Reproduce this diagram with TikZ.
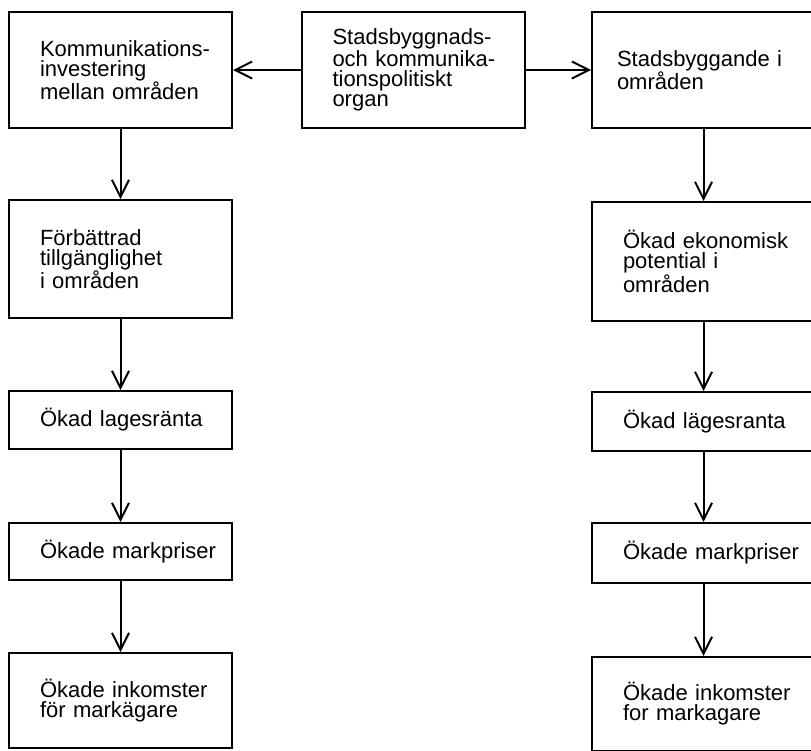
\documentclass[tikz,border=0pt]{standalone}
\usepackage{fontspec}
\setmainfont{Liberation Sans}
\usetikzlibrary{arrows.meta, positioning}
\hyphenpenalty=10000
\exhyphenpenalty=10000
\lineskiplimit=-30pt

\begin{document}
\begin{tikzpicture}[x=1pt, y=-1pt,
    stagebox/.style={draw, line width=2pt, minimum width=223pt, text width=161pt,
      inner xsep=31pt, align=left, font=\fontsize{22}{20}\selectfont},
    flowarrow/.style={line width=2pt, -{Straight Barb[length=17pt, width=17pt]}}]
        \useasboundingbox (0,0) rectangle (811,750);
        \clip (0,0) rectangle (811,750);

        % Top row
        \node[stagebox, minimum height=116pt] (komm) at (120.5,70) {Kommunikations-\\investering\\mellan~områden};
        \node[stagebox, minimum height=116pt] (organ) at (413,70) {Stadsbyggnads-\\och~kommunika-\\tionspolitiskt\\organ};
        \node[stagebox, minimum height=116pt, inner xsep=25pt, text width=173pt] (stad) at (703.5,70) {Stadsbyggande~i\\områden};

        % Left chain
        \node[stagebox, minimum height=118pt] (tillg) at (120.5,259) {Förbättrad\\tillgänglighet\\i~områden};
        \node[stagebox, minimum height=58pt] (laegeL) at (120.5,420) {Ökad~lagesränta};
        \node[stagebox, minimum height=57pt] (markL) at (120.5,551.5) {Ökade~markpriser};
        \node[stagebox, minimum height=95pt] (inkL) at (120.5,700.5) {Ökade~inkomster\\för~markägare};

        % Right chain
        \node[stagebox, minimum height=119pt] (pot) at (703.5,261.5) {Ökad~ekonomisk\\potential~i\\områden};
        \node[stagebox, minimum height=59pt] (laegeR) at (703.5,421.5) {Ökad~lägesranta};
        \node[stagebox, minimum height=60pt] (markR) at (703.5,553) {Ökade~markpriser};
        \node[stagebox, minimum height=94pt] (inkR) at (703.5,704) {Ökade~inkomster\\for~markagare};

        % Connecting arrows
        \draw[flowarrow] (organ) -- (komm);
        \draw[flowarrow] (organ) -- (stad);
        \draw[flowarrow] (komm) -- (tillg);
        \draw[flowarrow] (tillg) -- (laegeL);
        \draw[flowarrow] (laegeL) -- (markL);
        \draw[flowarrow] (markL) -- (inkL);
        \draw[flowarrow] (stad) -- (pot);
        \draw[flowarrow] (pot) -- (laegeR);
        \draw[flowarrow] (laegeR) -- (markR);
        \draw[flowarrow] (markR) -- (inkR);
    \end{tikzpicture}
\end{document}
